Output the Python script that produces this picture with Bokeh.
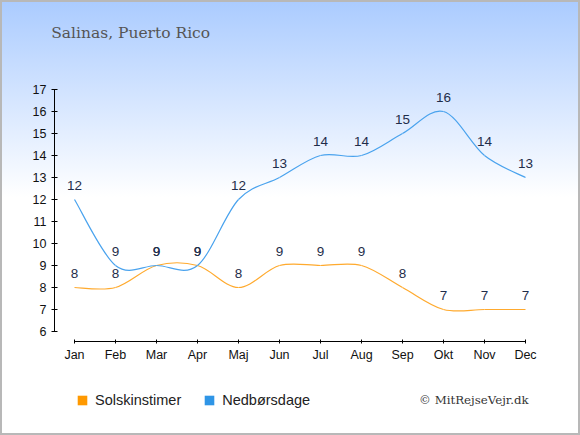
from bokeh.plotting import figure
from bokeh.models import (FixedTicker, Label, Legend, LegendItem, Range1d,
                          InlineStyleSheet, ColumnDataSource)
from bokeh.core.properties import value
from bokeh.embed import file_html
from bokeh.resources import INLINE

# ---- data ----
months = ["Jan", "Feb", "Mar", "Apr", "Maj", "Jun", "Jul", "Aug", "Sep", "Okt", "Nov", "Dec"]
sunshine = [8, 8, 9, 9, 8, 9, 9, 9, 8, 7, 7, 7]
rain_days = [12, 9, 9, 9, 12, 13, 14, 14, 15, 16, 14, 13]
y_ticks = list(range(6, 18))
title_text = "Salinas, Puerto Rico"
series_names = ["Solskinstimer", "Nedbørsdage"]
credit_text = "© MitRejseVejr.dk"

SUN_COLOR = "#ffaa2e"
RAIN_COLOR = "#4aa3ee"
SUN_LEG = "#ff9900"
RAIN_LEG = "#2f95e6"
LABEL_COLOR = "#1f2d4a"

W, H = 580, 435
PX_X, PX_Y = 41.0, 22.0          # pixels per month / per unit
X0_PX, Y6_PX = 74.0, 331.0       # pixel of Jan / of value 6

xs = list(range(len(months)))
NAN = float("nan")

p = figure(width=W, height=H, output_backend="svg", toolbar_location=None,
           x_range=Range1d(-X0_PX / PX_X, (W - X0_PX) / PX_X),
           y_range=Range1d(6 - (H - Y6_PX) / PX_Y, 6 + Y6_PX / PX_Y),
           min_border=0)
p.title = None
p.grid.visible = False
p.outline_line_color = None
p.background_fill_alpha = 0
p.border_fill_alpha = 0
p.stylesheets = [InlineStyleSheet(css=":host { background: linear-gradient(to bottom, #aacbff 0px, #ffffff 197px); outline: 2px solid #b8b8b8; outline-offset: -2px; }")]

# axes placed inside the full-canvas frame
for ax in p.xaxis:
    ax.fixed_location = 6 - 10 / PX_Y
    ax.ticker = FixedTicker(ticks=xs)
    ax.major_label_overrides = {i: m for i, m in enumerate(months)}
    ax.bounds = (0, len(months) - 1)
    ax.minor_tick_line_color = None
    ax.major_tick_in = 2
    ax.major_tick_out = 2
    ax.major_label_standoff = 4
    ax.major_label_text_font = "Liberation Sans"
    ax.major_label_text_font_size = "12.5px"
    ax.major_label_text_color = "#111111"
    ax.axis_line_color = "black"
    ax.major_tick_line_color = "black"
for ax in p.yaxis:
    ax.fixed_location = -20 / PX_X
    ax.ticker = FixedTicker(ticks=y_ticks)
    ax.bounds = (6, 17)
    ax.minor_tick_line_color = None
    ax.major_tick_in = 3
    ax.major_tick_out = 3
    ax.major_label_standoff = 5
    ax.major_label_text_font = "Liberation Sans"
    ax.major_label_text_font_size = "12.5px"
    ax.major_label_text_color = "#111111"
    ax.axis_line_color = "black"
    ax.major_tick_line_color = "black"


def spline(values, k=1 / 6):
    n = len(values)
    x0, y0, x1, y1, cx0, cy0, cx1, cy1 = [], [], [], [], [], [], [], []
    for i in range(n - 1):
        pm = i - 1 if i > 0 else i
        pn = i + 2 if i + 2 < n else i + 1
        xa, ya = xs[i], values[i]
        xb, yb = xs[i + 1], values[i + 1]
        x0.append(xa); y0.append(ya); x1.append(xb); y1.append(yb)
        cx0.append(xa + (xb - xs[pm]) * k)
        cy0.append(ya + (yb - values[pm]) * k)
        cx1.append(xb - (xs[pn] - xa) * k)
        cy1.append(yb - (values[pn] - ya) * k)
    return dict(x0=x0, y0=y0, x1=x1, y1=y1, cx0=cx0, cy0=cy0, cx1=cx1, cy1=cy1)


p.bezier(source=ColumnDataSource(spline(sunshine)), x0="x0", y0="y0", x1="x1", y1="y1",
         cx0="cx0", cy0="cy0", cx1="cx1", cy1="cy1", line_color=SUN_COLOR, line_width=1.2)
p.bezier(source=ColumnDataSource(spline(rain_days)), x0="x0", y0="y0", x1="x1", y1="y1",
         cx0="cx0", cy0="cy0", cx1="cx1", cy1="cy1", line_color=RAIN_COLOR, line_width=1.2)

for vals in (sunshine, rain_days):
    p.text(x=xs, y=vals, text=[str(v) for v in vals], text_align="center",
           text_baseline="middle", y_offset=-14, text_color=LABEL_COLOR,
           text_font=value("Liberation Sans"), text_font_size="13.5px")

# legend (square markers with no visible position)
r_sun = p.scatter(x=[NAN], y=[NAN], marker="square", fill_color=SUN_LEG, line_color=None)
r_rain = p.scatter(x=[NAN], y=[NAN], marker="square", fill_color=RAIN_LEG, line_color=None)
legend = Legend(items=[LegendItem(label=series_names[0], renderers=[r_sun]),
                       LegendItem(label=series_names[1], renderers=[r_rain])],
                orientation="horizontal", location=(70, 23.5), padding=0, margin=0,
                spacing=16, glyph_width=24, glyph_height=24, label_height=24,
                label_standoff=1, label_text_font="Liberation Sans",
                label_text_font_size="14.5px", label_text_color="#222222",
                border_line_alpha=0, background_fill_alpha=0)
p.add_layout(legend, "center")

p.add_layout(Label(x=50.7, y=H - 32, x_units="screen", y_units="screen", text=title_text,
                   text_font="DejaVu Serif", text_font_size="15.5px", text_color="#555555",
                   text_baseline="middle", text_align="left"))
p.add_layout(Label(x=418.6, y=H - 399.5, x_units="screen", y_units="screen", text=credit_text,
                   text_font="DejaVu Serif", text_font_size="11.8px", text_color="#333333",
                   text_baseline="middle", text_align="left"))

open("out.html", "w").write(file_html(p, INLINE))
